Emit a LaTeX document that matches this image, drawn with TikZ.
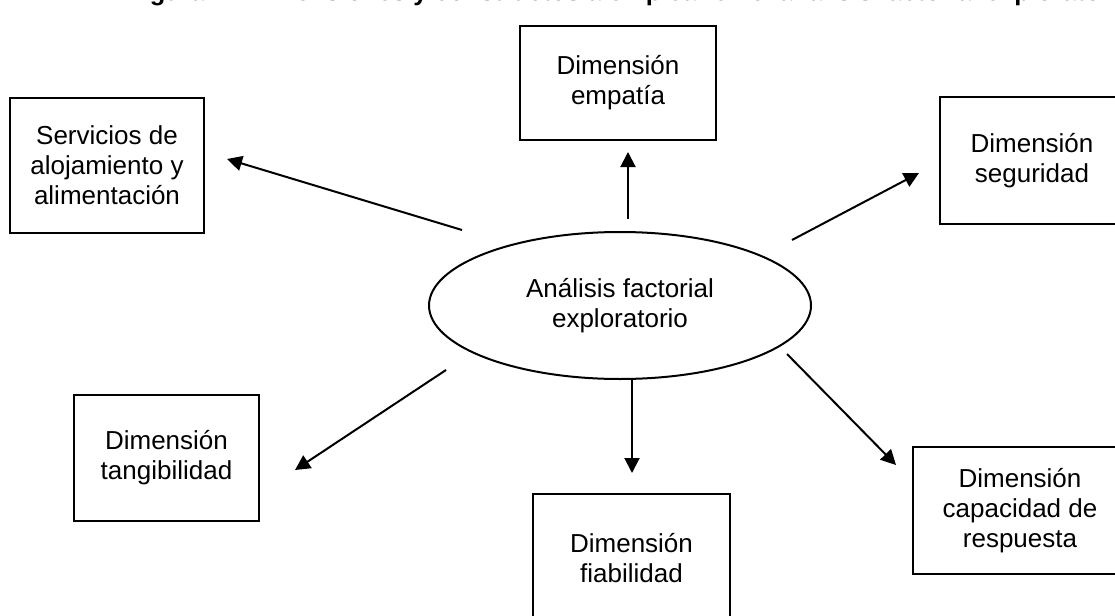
\documentclass[tikz,border=0pt]{standalone}
\usepackage{fontspec}
\setmainfont{Liberation Sans}
\usetikzlibrary{arrows.meta,shapes.geometric}
\begin{document}
\begin{tikzpicture}[x=1pt,y=-1pt,
  box/.style={draw,line width=2.4pt,rectangle,align=center,inner sep=0pt,
    font=\fontsize{26}{30}\selectfont},
  ell/.style={draw,line width=2pt,ellipse,align=center,inner sep=0pt,
    minimum width=382pt,minimum height=147pt,font=\fontsize{26}{30}\selectfont},
  arr/.style={line width=2pt,-{Triangle[length=15pt,width=15pt]}}]
\useasboundingbox (0,0) rectangle (1115,615);
\node[anchor=base west,font=\bfseries\fontsize{25.5}{30}\selectfont,inner sep=0pt] (title) at (127,1)
  {Figura 1.\ \ Dimensiones y constructos a emplear en el análisis factorial exploratorio};
\node[ell] (ell) at (620,305.5) {Análisis factorial\\exploratorio};
\node[box,minimum width=196pt,minimum height=114pt] (emp) at (618,83) {Dimensión\\empatía};
\node[box,minimum width=194pt,minimum height=135pt] (serv) at (107,165.5) {Servicios de\\alojamiento y\\alimentación};
\node[box,minimum width=184pt,minimum height=127pt] (seg) at (1032,160.5) {Dimensión\\seguridad};
\node[box,minimum width=185pt,minimum height=126pt] (tan) at (166.5,458) {Dimensión\\tangibilidad};
\node[box,minimum width=197pt,minimum height=128pt] (fia) at (631.5,558) {Dimensión\\fiabilidad};
\node[box,minimum width=214pt,minimum height=127pt] (cap) at (1020,510.5) {Dimensión\\capacidad de\\respuesta};
% connector ends
\coordinate (empS) at (628,219);  \coordinate (empT) at (628,152);
\coordinate (servS) at (462,230); \coordinate (servT) at (227,159);
\coordinate (segS) at (792,240);  \coordinate (segT) at (919,173);
\coordinate (tanS) at (446,370);  \coordinate (tanT) at (295,470);
\coordinate (fiaS) at (632,379);  \coordinate (fiaT) at (632,473);
\coordinate (capS) at (787,354);  \coordinate (capT) at (896,465);
\draw[arr] (empS) -- (empT);
\draw[arr] (servS) -- (servT);
\draw[arr] (segS) -- (segT);
\draw[arr] (tanS) -- (tanT);
\draw[arr] (fiaS) -- (fiaT);
\draw[arr] (capS) -- (capT);
\end{tikzpicture}
\end{document}
